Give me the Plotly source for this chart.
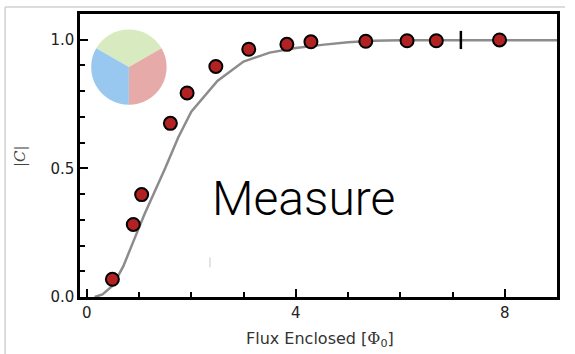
import plotly.graph_objects as go

# Measured coherence magnitude vs enclosed flux
flux_meas = [0.49, 0.89, 1.05, 1.60, 1.92, 2.47, 3.10, 3.83, 4.29, 5.34, 6.13, 6.69, 7.90]
c_meas = [0.069, 0.282, 0.398, 0.675, 0.793, 0.896, 0.963, 0.982, 0.992, 0.994, 0.996, 0.996, 0.999]

# Single tick-style marker on the plateau
flux_tick = [7.16]
c_tick = [0.999]

# Theory curve
flux_theory = [0.15, 0.3, 0.5, 0.7, 0.9, 1.1, 1.3, 1.5, 1.75, 2.0, 2.5, 3.0, 3.5, 4.0,
               4.5, 5.0, 5.5, 6.0, 7.0, 8.0, 9.0]
c_theory = [0.0, 0.01, 0.045, 0.12, 0.22, 0.32, 0.41, 0.50, 0.62, 0.72, 0.84, 0.915,
            0.95, 0.968, 0.98, 0.99, 0.996, 0.998, 0.998, 0.998, 0.998]

# Inset pie
pie_labels = ["A", "B", "C"]
pie_values = [1, 1, 1]
pie_colors = ["#d8eabf", "#e6aaa8", "#98c8f0"]

fig = go.Figure()

fig.add_trace(go.Scatter(
    x=flux_theory, y=c_theory, mode="lines",
    line=dict(color="#8c8c8c", width=2.5),
    hoverinfo="skip", showlegend=False,
))
fig.add_trace(go.Scatter(
    x=flux_meas, y=c_meas, mode="markers",
    marker=dict(size=13, color="#b22222", line=dict(color="black", width=2)),
    showlegend=False,
))
fig.add_trace(go.Scatter(
    x=flux_tick, y=c_tick, mode="markers",
    marker=dict(symbol="line-ns", size=13, line=dict(color="black", width=2.5)),
    showlegend=False,
))
fig.add_trace(go.Pie(
    labels=pie_labels, values=pie_values, sort=False,
    direction="clockwise", rotation=-60,
    marker=dict(colors=pie_colors, line=dict(width=0)),
    textinfo="none", hoverinfo="skip", showlegend=False,
    domain=dict(x=[0.023, 0.182], y=[0.679, 0.9456]),
))

tick_font = dict(family="DejaVu Sans", size=15, color="#222222")

fig.update_xaxes(
    range=[-0.13, 9.0], tickvals=[0, 4, 8], ticktext=["0", "4", "8"],
    ticks="inside", ticklen=8, tickwidth=1.5, tickcolor="black",
    minor=dict(dtick=1, tick0=0, ticks="inside", ticklen=5, tickwidth=1.5, tickcolor="black"),
    showline=True, linewidth=2.5, linecolor="black", mirror=True,
    showgrid=False, zeroline=False, tickfont=tick_font,
)
fig.update_yaxes(
    range=[0, 1.1], tickvals=[0, 0.5, 1.0], ticktext=["0.0", "0.5", "1.0"],
    ticks="inside", ticklen=8, tickwidth=1.5, tickcolor="black",
    minor=dict(dtick=0.1, tick0=0, ticks="inside", ticklen=5, tickwidth=1.5, tickcolor="black"),
    showline=True, linewidth=2.5, linecolor="black", mirror=True,
    showgrid=False, zeroline=False, tickfont=tick_font,
)

fig.update_layout(
    width=575, height=354,
    margin=dict(l=80, r=18, t=11, b=57),
    paper_bgcolor="white", plot_bgcolor="white",
    annotations=[
        dict(text="Flux Enclosed [<span style='font-family:DejaVu Serif'>Φ</span><sub>0</sub>]",
             xref="paper", yref="paper", x=0.503, y=-0.151,
             xanchor="center", yanchor="middle", showarrow=False,
             font=dict(family="DejaVu Sans", size=16, color="#333333")),
        dict(text="|<i>C</i>|", xref="paper", yref="paper", x=-0.126, y=0.498,
             xanchor="center", yanchor="middle", showarrow=False, textangle=-90,
             font=dict(family="DejaVu Serif", size=15, color="#444444")),
        dict(text="Measure", xref="paper", yref="paper", x=0.2725, y=0.348,
             xanchor="left", yanchor="middle", showarrow=False,
             font=dict(family="Roboto", size=48, color="black", weight=300)),
    ],
    shapes=[
        # outer frame (top and left edges)
        dict(type="line", xref="paper", yref="paper", x0=-0.157, x1=1.0168,
             y0=1.0246, y1=1.0246, line=dict(color="#d0d0d0", width=1.5)),
        dict(type="line", xref="paper", yref="paper", x0=-0.157, x1=-0.157,
             y0=1.0246, y1=-0.21, line=dict(color="#d0d0d0", width=1.5)),
        # small stray stroke
        dict(type="line", xref="paper", yref="paper", x0=0.2725, x1=0.2725,
             y0=0.105, y1=0.14, line=dict(color="#c8c8c8", width=1)),
    ],
)

fig.write_html("out.html")
